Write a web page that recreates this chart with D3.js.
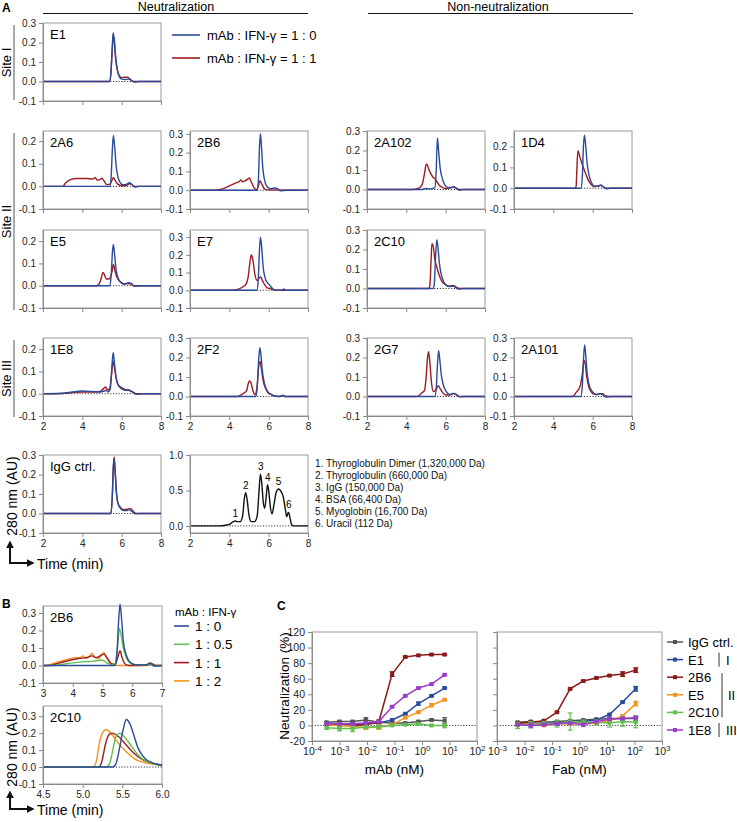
<!DOCTYPE html>
<html>
<head>
<meta charset="utf-8">
<script src="https://cdn.jsdelivr.net/npm/d3@7"></script>
<style>
  body { margin: 0; background: #fff; }
  svg { font-family: "Liberation Sans", Arial, sans-serif; }
</style>
</head>
<body>
<svg id="fig" width="737" height="822"></svg>
<script>
// ---- Panel A chromatograms: [time (min), A280 (AU)] ----
const E1_blue = [[2,0],[5.38,0],[5.45,0.04],[5.52,0.17],[5.57,0.25],[5.63,0.21],[5.7,0.12],[5.78,0.06],[5.88,0.025],[6.0,0.012],[6.15,0.01],[6.35,0.012],[6.5,0.005],[6.65,-0.003],[6.9,0],[8,0]];
const E1_red = [[2,0],[5.38,0],[5.45,0.04],[5.52,0.16],[5.57,0.24],[5.63,0.2],[5.7,0.11],[5.78,0.06],[5.88,0.03],[6.0,0.02],[6.15,0.022],[6.3,0.022],[6.45,0.01],[6.6,0],[8,0]];
const A6_red = [[2,0],[3.0,0],[3.15,0.015],[3.4,0.03],[3.7,0.035],[4.2,0.035],[4.55,0.033],[4.65,0.04],[4.75,0.028],[4.9,0.03],[5.0,0.036],[5.1,0.025],[5.25,0.008],[5.4,0.01],[5.52,0.03],[5.58,0.04],[5.65,0.03],[5.8,0.01],[6.0,0.003],[6.2,0.003],[6.4,0.012],[6.5,0.01],[6.65,0],[8,0]];
const A6_blue = [[2,0],[5.4,0],[5.47,0.05],[5.53,0.17],[5.58,0.225],[5.64,0.18],[5.72,0.09],[5.8,0.045],[5.9,0.02],[6.05,0.008],[6.2,0.008],[6.4,0.016],[6.5,0.01],[6.65,-0.003],[6.9,0],[8,0]];
const B6_red = [[2,0],[3.3,0],[3.6,0.005],[3.9,0.018],[4.2,0.032],[4.4,0.042],[4.5,0.045],[4.58,0.055],[4.68,0.045],[4.8,0.05],[4.95,0.06],[5.02,0.065],[5.1,0.048],[5.25,0.015],[5.38,0.002],[5.47,0.02],[5.56,0.05],[5.64,0.035],[5.75,0.012],[5.9,0.002],[8,0]];
const B6_blue = [[2,0],[5.42,0],[5.48,0.06],[5.53,0.22],[5.58,0.3],[5.63,0.24],[5.7,0.12],[5.8,0.05],[5.92,0.02],[6.1,0.008],[6.3,0.012],[6.45,0.008],[6.6,-0.003],[6.9,0],[8,0]];
const A102_red = [[2,0],[4.3,0],[4.6,0.005],[4.8,0.025],[4.92,0.08],[5.0,0.125],[5.05,0.13],[5.12,0.11],[5.25,0.08],[5.38,0.06],[5.47,0.055],[5.55,0.04],[5.65,0.025],[5.8,0.012],[6.0,0.005],[6.3,0.01],[6.4,0.012],[6.55,0.005],[6.7,0],[8,0]];
const A102_blue = [[2,0],[4.8,0],[5.0,0.005],[5.2,0.003],[5.45,0.01],[5.52,0.1],[5.58,0.265],[5.64,0.2],[5.72,0.11],[5.82,0.06],[5.95,0.025],[6.1,0.01],[6.3,0.01],[6.42,0.014],[6.55,0.006],[6.7,-0.004],[6.9,0],[8,0]];
const D4_red = [[2,0],[5.1,0],[5.16,0.01],[5.2,0.1],[5.25,0.18],[5.32,0.16],[5.45,0.12],[5.6,0.08],[5.75,0.045],[5.9,0.02],[6.1,0.008],[6.3,0.012],[6.42,0.014],[6.55,0.005],[6.7,0],[8,0]];
const D4_blue = [[2,0],[5.4,0],[5.47,0.05],[5.53,0.2],[5.58,0.255],[5.64,0.21],[5.72,0.12],[5.82,0.06],[5.95,0.025],[6.1,0.01],[6.3,0.01],[6.42,0.015],[6.55,0.006],[6.7,-0.003],[6.9,0],[8,0]];
const E5_red = [[2,0],[4.7,0],[4.85,0.008],[4.95,0.03],[5.05,0.06],[5.12,0.05],[5.22,0.03],[5.35,0.03],[5.5,0.06],[5.58,0.095],[5.65,0.07],[5.75,0.04],[5.9,0.02],[6.1,0.008],[6.3,0.01],[6.45,0.008],[6.6,0],[8,0]];
const E5_blue = [[2,0],[5.4,0],[5.47,0.05],[5.53,0.15],[5.58,0.185],[5.64,0.14],[5.72,0.07],[5.82,0.035],[5.95,0.015],[6.15,0.008],[6.35,0.014],[6.5,0.01],[6.65,-0.003],[6.9,0],[8,0]];
const E7_red = [[2,0],[4.2,0],[4.5,0.008],[4.7,0.02],[4.85,0.035],[4.95,0.07],[5.05,0.16],[5.12,0.2],[5.2,0.17],[5.3,0.09],[5.42,0.055],[5.52,0.07],[5.6,0.075],[5.68,0.055],[5.8,0.03],[5.95,0.012],[6.1,0.01],[6.2,0.004],[6.4,0],[8,0]];
const E7_blue = [[2,0],[5.4,0],[5.47,0.06],[5.53,0.22],[5.58,0.3],[5.64,0.25],[5.72,0.13],[5.82,0.07],[5.95,0.04],[6.05,0.03],[6.12,0.02],[6.25,0.005],[6.5,0],[6.7,0.003],[6.78,0.008],[6.85,0],[8,0]];
const C10_red = [[2,0],[5.15,0],[5.2,0.02],[5.26,0.15],[5.3,0.23],[5.36,0.22],[5.45,0.15],[5.55,0.11],[5.7,0.06],[5.85,0.03],[6.0,0.02],[6.15,0.012],[6.3,0.015],[6.42,0.014],[6.55,0.006],[6.7,0],[8,0]];
const C10_blue = [[2,0],[5.35,0],[5.42,0.02],[5.48,0.15],[5.55,0.25],[5.6,0.22],[5.68,0.13],[5.78,0.07],[5.9,0.035],[6.05,0.015],[6.2,0.01],[6.38,0.012],[6.5,0.006],[6.65,-0.003],[6.9,0],[8,0]];
const E8_red = [[2,0],[3.0,0.001],[3.5,0.005],[4.0,0.008],[4.5,0.008],[4.9,0.01],[5.1,0.025],[5.18,0.03],[5.27,0.018],[5.38,0.02],[5.48,0.08],[5.57,0.145],[5.63,0.12],[5.72,0.07],[5.82,0.04],[5.95,0.03],[6.05,0.025],[6.2,0.018],[6.35,0.015],[6.5,0.012],[6.65,0.003],[6.8,0],[8,0]];
const E8_blue = [[2,0],[3.0,0.002],[3.5,0.008],[4.0,0.012],[4.5,0.01],[4.9,0.008],[5.1,0.012],[5.2,0.015],[5.3,0.008],[5.42,0.02],[5.5,0.12],[5.57,0.185],[5.63,0.14],[5.72,0.07],[5.82,0.04],[5.95,0.025],[6.05,0.02],[6.2,0.015],[6.35,0.018],[6.45,0.012],[6.6,0.005],[6.75,-0.003],[7.0,0],[8,0]];
const F2_red = [[2,0],[4.4,0],[4.6,0.008],[4.75,0.018],[4.88,0.03],[4.96,0.065],[5.03,0.08],[5.1,0.07],[5.2,0.03],[5.3,0.01],[5.4,0.04],[5.48,0.14],[5.56,0.18],[5.62,0.15],[5.72,0.08],[5.85,0.04],[6.0,0.015],[6.1,0.012],[6.2,0.005],[6.6,0],[6.7,0.006],[6.8,0],[8,0]];
const F2_blue = [[2,0],[5.35,0],[5.42,0.05],[5.5,0.2],[5.55,0.25],[5.6,0.22],[5.68,0.13],[5.78,0.07],[5.9,0.035],[6.05,0.015],[6.12,0.012],[6.25,0.004],[6.5,0],[6.68,0.004],[6.74,0.007],[6.85,0],[8,0]];
const G7_red = [[2,0],[4.5,0],[4.65,0.005],[4.8,0.02],[4.92,0.03],[5.0,0.09],[5.08,0.2],[5.13,0.23],[5.2,0.17],[5.28,0.07],[5.38,0.025],[5.5,0.035],[5.62,0.055],[5.72,0.04],[5.85,0.02],[6.0,0.008],[6.2,0.008],[6.38,0.016],[6.5,0.012],[6.65,0.002],[6.8,0],[8,0]];
const G7_blue = [[2,0],[5.45,0],[5.52,0.04],[5.58,0.16],[5.64,0.235],[5.7,0.19],[5.78,0.11],[5.88,0.06],[6.0,0.03],[6.15,0.012],[6.3,0.01],[6.42,0.016],[6.55,0.01],[6.7,-0.002],[6.9,0],[8,0]];
const A101_red = [[2,0],[4.95,0],[5.05,0.005],[5.15,0.02],[5.28,0.035],[5.38,0.06],[5.48,0.12],[5.56,0.185],[5.62,0.17],[5.7,0.1],[5.8,0.05],[5.92,0.025],[6.05,0.012],[6.2,0.01],[6.35,0.015],[6.5,0.014],[6.62,0.004],[6.8,0],[8,0]];
const A101_blue = [[2,0],[5.4,0],[5.47,0.05],[5.54,0.2],[5.59,0.265],[5.64,0.22],[5.72,0.12],[5.82,0.06],[5.95,0.03],[6.1,0.013],[6.25,0.01],[6.4,0.014],[6.52,0.008],[6.68,-0.003],[6.9,0],[8,0]];
const IgG_red = [[2,0],[5.45,0],[5.52,0.08],[5.58,0.25],[5.62,0.29],[5.67,0.22],[5.74,0.1],[5.82,0.05],[5.95,0.03],[6.1,0.02],[6.3,0.022],[6.45,0.025],[6.55,0.015],[6.7,0.002],[6.9,0],[8,0]];
const IgG_blue = [[2,0],[5.45,0],[5.52,0.08],[5.58,0.24],[5.62,0.28],[5.67,0.21],[5.74,0.1],[5.82,0.05],[5.95,0.025],[6.1,0.015],[6.25,0.015],[6.35,0.02],[6.45,0.016],[6.55,0.008],[6.7,-0.002],[6.9,0],[8,0]];
const standards = [[2,0],[3.5,0],[3.8,0.01],[4.05,0.03],[4.2,0.06],[4.3,0.07],[4.42,0.06],[4.55,0.06],[4.68,0.15],[4.76,0.38],[4.83,0.47],[4.9,0.38],[5.0,0.15],[5.12,0.06],[5.28,0.06],[5.42,0.15],[5.5,0.45],[5.58,0.73],[5.65,0.6],[5.72,0.35],[5.8,0.25],[5.87,0.4],[5.94,0.58],[6.0,0.5],[6.08,0.28],[6.17,0.17],[6.27,0.3],[6.38,0.47],[6.5,0.52],[6.62,0.49],[6.75,0.4],[6.85,0.23],[6.92,0.13],[6.98,0.18],[7.02,0.19],[7.08,0.12],[7.15,0.03],[7.25,0],[8,0]];
const stdPeaks = [[4.3,0.07,"1"],[4.83,0.47,"2"],[5.6,0.73,"3"],[5.95,0.58,"4"],[6.5,0.52,"5"],[7.02,0.19,"6"]];
const stdNames = ["1. Thyroglobulin Dimer (1,320,000 Da)","2. Thyroglobulin (660,000 Da)","3. IgG (150,000 Da)","4. BSA (66,400 Da)","5. Myoglobin (16,700 Da)","6. Uracil (112 Da)"];

// ---- Panel B: titration of IFN-γ ----
const ratioLabels = ["1 : 0","1 : 0.5","1 : 1","1 : 2"];
const B6_r0 = [[3,0],[5.42,0],[5.48,0.05],[5.54,0.25],[5.59,0.35],[5.64,0.27],[5.7,0.14],[5.8,0.06],[5.92,0.02],[6.1,0.005],[6.45,0.003],[6.55,0.01],[6.62,0.012],[6.7,0],[6.8,-0.003],[7,0]];
const B6_r05 = [[3,0],[3.3,0],[3.6,0.006],[4.0,0.015],[4.4,0.022],[4.7,0.025],[4.9,0.03],[5.0,0.03],[5.15,0.015],[5.3,0.005],[5.42,0.01],[5.5,0.1],[5.57,0.21],[5.63,0.17],[5.7,0.1],[5.8,0.045],[5.92,0.015],[6.1,0.004],[6.5,0.005],[6.6,0.01],[6.7,0],[7,0]];
const B6_r1 = [[3,0],[3.2,0],[3.5,0.012],[3.9,0.03],[4.2,0.04],[4.45,0.045],[4.65,0.055],[4.78,0.045],[4.92,0.055],[5.05,0.065],[5.15,0.045],[5.3,0.01],[5.42,0.005],[5.52,0.05],[5.59,0.085],[5.65,0.05],[5.75,0.01],[5.9,0],[6.5,0.003],[6.6,0.015],[6.7,0.005],[6.8,0],[7,0]];
const B6_r2 = [[3,0],[3.1,0],[3.4,0.015],[3.8,0.035],[4.1,0.045],[4.25,0.045],[4.35,0.055],[4.45,0.04],[4.55,0.05],[4.65,0.07],[4.75,0.045],[4.88,0.04],[4.98,0.065],[5.05,0.075],[5.12,0.05],[5.25,0.015],[5.4,0.003],[5.55,0],[6.5,0],[6.6,0.008],[6.7,0.01],[6.78,0],[7,0]];
const C10_r0 = [[4.5,0],[5.38,0],[5.42,0.02],[5.46,0.1],[5.51,0.22],[5.55,0.28],[5.6,0.25],[5.65,0.18],[5.7,0.11],[5.75,0.07],[5.8,0.045],[5.88,0.025],[5.95,0.015],[6,0.01]];
const C10_r05 = [[4.5,0],[5.3,0],[5.34,0.02],[5.38,0.1],[5.42,0.18],[5.47,0.2],[5.54,0.17],[5.62,0.12],[5.7,0.07],[5.8,0.035],[5.9,0.018],[6,0.01]];
const C10_r1 = [[4.5,0],[5.2,0],[5.24,0.03],[5.29,0.14],[5.33,0.19],[5.37,0.2],[5.45,0.18],[5.55,0.13],[5.65,0.08],[5.75,0.045],[5.85,0.025],[5.95,0.015],[6,0.012]];
const C10_r2 = [[4.5,0],[5.13,0],[5.17,0.03],[5.21,0.14],[5.26,0.21],[5.3,0.22],[5.37,0.19],[5.45,0.14],[5.55,0.09],[5.65,0.05],[5.75,0.03],[5.85,0.02],[6,0.01]];

// ---- Panel C: neutralization (%) ----
const seriesC = ["IgG ctrl.","E1","2B6","E5","2C10","1E8"];
const mAbConc = [0.00034,0.001,0.003,0.0091,0.027,0.082,0.247,0.74,2.22,6.67];
const mAb_IgG = [4,5,5,7,4,3,3,5,7,6];
const mAb_E1 = [1,1,1,2,3,7,15,28,38,48];
const mAb_2B6 = [1,0,0,1,5,66,88,90,91,91];
const mAb_E5 = [1,0,-1,-3,-2,1,10,17,26,33];
const mAb_2C10 = [-3,-4,-4,-2,-2,0,1,2,0,0];
const mAb_1E8 = [2,2,2,3,5,24,38,48,53,65];
const mAbErr_IgG = [1,1,1,3,1,1,1,1,1,4];
const mAbErr_E1 = [1,1,1,1,1,1,1,2,1,1];
const mAbErr_2B6 = [1,1,1,1,2,3,1,1,1,1];
const mAbErr_E5 = [1,1,2,2,3,1,1,1,2,1];
const mAbErr_2C10 = [2,3,4,2,2,1,1,1,1,3];
const mAbErr_1E8 = [1,1,1,1,1,1,1,1,1,1];
const fabConc = [0.00565,0.0169,0.0508,0.152,0.457,1.37,4.1,12.3,37,111];
const fab_IgG = [4,5,4,5,6,7,8,9,9,9];
const fab_E1 = [3,2,2,3,4,5,7,14,30,47];
const fab_2B6 = [3,4,6,17,47,57,61,64,66,71];
const fab_E5 = [1,2,0,2,2,2,3,6,12,28];
const fab_2C10 = [0,2,2,2,5,4,4,3,5,4];
const fab_1E8 = [1,0,1,2,3,1,5,8,9,10];
const fabErr_IgG = [1,1,1,1,1,1,1,1,2,3];
const fabErr_E1 = [1,1,1,1,1,1,1,1,1,3];
const fabErr_2B6 = [1,1,1,1,1,1,1,1,3,3];
const fabErr_E5 = [1,1,1,1,1,1,1,1,2,3];
const fabErr_2C10 = [4,3,3,4,11,3,3,5,6,7];
const fabErr_1E8 = [1,3,1,1,1,2,1,1,1,1];

const BLUE = "#2A4B9B", RED = "#9E1B20", GREEN = "#62BD4F", ORANGE = "#F7931E", PURPLE = "#9B3CCB", GRAY = "#555555";
const colorsC = [GRAY, BLUE, "#8B1A1A", ORANGE, GREEN, PURPLE];

const svg = d3.select("#fig");

function styleAxis(g, fs) {
  g.selectAll("path, line").attr("stroke", "#8a8a8a");
  g.selectAll("text").attr("fill", "#222").style("font-size", fs + "px");
}

// generic chromatogram panel
function chrom(o) {
  const x = d3.scaleLinear().domain(o.xd).range([o.x0, o.x0 + o.w]);
  const y = d3.scaleLinear().domain(o.yd).range([o.y0 + o.h, o.y0]);
  svg.append("rect").attr("x", o.x0).attr("y", o.y0).attr("width", o.w).attr("height", o.h)
    .attr("fill", "none").attr("stroke", "#9a9a9a");
  svg.append("line").attr("x1", x(o.xd[0])).attr("x2", x(o.xd[1])).attr("y1", y(0)).attr("y2", y(0))
    .attr("stroke", "#222").attr("stroke-width", 0.9).attr("stroke-dasharray", "1.2,1.6");
  const line = d3.line().x(d => x(d[0])).y(d => y(d[1])).curve(d3.curveMonotoneX);
  o.traces.forEach(t => {
    svg.append("path").attr("d", line(t.data)).attr("fill", "none")
      .attr("stroke", t.color).attr("stroke-width", 1.4);
  });
  const ya = svg.append("g").attr("transform", `translate(${o.x0},0)`)
    .call(d3.axisLeft(y).tickValues(o.yt).tickSize(4).tickSizeOuter(0).tickFormat(d => d.toFixed(1)));
  styleAxis(ya, 10);
  const xa = svg.append("g").attr("transform", `translate(0,${o.y0 + o.h})`)
    .call(d3.axisBottom(x).tickValues(o.xt).tickSize(4).tickSizeOuter(0)
      .tickFormat(o.xlab ? o.xf : () => ""));
  styleAxis(xa, 10);
  if (o.title) {
    svg.append("text").attr("x", o.x0 + 7).attr("y", o.y0 + 16).attr("font-size", 13).text(o.title);
  }
  return {x, y};
}

// ---- panel A layout ----
const colX = [43, 190, 367, 514], rowY = [23, 131, 230, 338, 455];
const pw = 118, ph = 78;
const t2 = [2, 4, 6, 8];
const yt3 = [-0.1, 0, 0.1, 0.2, 0.3], yt2 = [-0.1, 0, 0.1, 0.2];
const aPanels = [
  {c: 0, r: 0, title: "E1", red: E1_red, blue: E1_blue, yd: [-0.1, 0.3], yt: yt3},
  {c: 0, r: 1, title: "2A6", red: A6_red, blue: A6_blue, yd: [-0.1, 0.245], yt: yt2},
  {c: 1, r: 1, title: "2B6", red: B6_red, blue: B6_blue, yd: [-0.1, 0.315], yt: yt3},
  {c: 2, r: 1, title: "2A102", red: A102_red, blue: A102_blue, yd: [-0.1, 0.3], yt: yt3},
  {c: 3, r: 1, title: "1D4", red: D4_red, blue: D4_blue, yd: [-0.1, 0.275], yt: yt2},
  {c: 0, r: 2, title: "E5", red: E5_red, blue: E5_blue, yd: [-0.1, 0.25], yt: yt2},
  {c: 1, r: 2, title: "E7", red: E7_red, blue: E7_blue, yd: [-0.1, 0.34], yt: yt3},
  {c: 2, r: 2, title: "2C10", red: C10_red, blue: C10_blue, yd: [-0.1, 0.3], yt: yt3},
  {c: 0, r: 3, title: "1E8", red: E8_red, blue: E8_blue, yd: [-0.1, 0.25], yt: yt2, xlab: true},
  {c: 1, r: 3, title: "2F2", red: F2_red, blue: F2_blue, yd: [-0.1, 0.3], yt: yt3, xlab: true},
  {c: 2, r: 3, title: "2G7", red: G7_red, blue: G7_blue, yd: [-0.1, 0.3], yt: yt3, xlab: true},
  {c: 3, r: 3, title: "2A101", red: A101_red, blue: A101_blue, yd: [-0.1, 0.3], yt: yt3, xlab: true},
  {c: 0, r: 4, title: "IgG ctrl.", red: IgG_red, blue: IgG_blue, yd: [-0.1, 0.3], yt: yt3, xlab: true}
];
aPanels.forEach(p => {
  chrom({x0: colX[p.c], y0: rowY[p.r], w: pw, h: ph, xd: [2, 8], yd: p.yd, xt: t2, yt: p.yt,
    xlab: !!p.xlab, xf: d => d, title: p.title,
    traces: [{data: p.red, color: RED}, {data: p.blue, color: BLUE}]});
});

// standards
const std = chrom({x0: colX[1], y0: rowY[4], w: pw, h: ph, xd: [2, 8], yd: [-0.1, 1.0], xt: t2, yt: [0, 0.5, 1.0],
  xlab: true, xf: d => d, traces: [{data: standards, color: "#111"}]});
stdPeaks.forEach(p => {
  svg.append("text").attr("x", std.x(p[0])).attr("y", std.y(p[1]) - 4).attr("text-anchor", "middle")
    .attr("font-size", 10).text(p[2]);
});
stdNames.forEach((s, i) => {
  svg.append("text").attr("x", 315).attr("y", 467 + i * 12).attr("font-size", 10).attr("fill", "#111").text(s);
});

// headers
svg.append("text").attr("x", 2).attr("y", 12).attr("font-size", 12).attr("font-weight", "bold").text("A");
svg.append("text").attr("x", 176).attr("y", 11).attr("text-anchor", "middle").attr("font-size", 12.5).text("Neutralization");
svg.append("line").attr("x1", 43).attr("x2", 308).attr("y1", 13.5).attr("y2", 13.5).attr("stroke", "#111");
svg.append("text").attr("x", 498).attr("y", 11).attr("text-anchor", "middle").attr("font-size", 12.5).text("Non-neutralization");
svg.append("line").attr("x1", 368).attr("x2", 633).attr("y1", 13.5).attr("y2", 13.5).attr("stroke", "#111");

// legend A
[["mAb : IFN-γ = 1 : 0", BLUE, 35], ["mAb : IFN-γ = 1 : 1", RED, 58]].forEach(l => {
  svg.append("line").attr("x1", 172).attr("x2", 200).attr("y1", l[2]).attr("y2", l[2]).attr("stroke", l[1]).attr("stroke-width", 1.6);
  svg.append("text").attr("x", 207).attr("y", l[2] + 4.5).attr("font-size", 13).text(l[0]);
});

// site brackets
[["Site I", 25, 100], ["Site II", 133, 310], ["Site III", 340, 417]].forEach(s => {
  svg.append("line").attr("x1", 14).attr("x2", 14).attr("y1", s[1]).attr("y2", s[2]).attr("stroke", "#555");
  svg.append("text").attr("transform", `translate(11,${(s[1] + s[2]) / 2}) rotate(-90)`)
    .attr("text-anchor", "middle").attr("font-size", 13).text(s[0]);
});

// axis-hint arrows
svg.append("defs").append("marker").attr("id", "ah").attr("viewBox", "0 0 10 10").attr("refX", 8).attr("refY", 5)
  .attr("markerWidth", 4).attr("markerHeight", 4).attr("orient", "auto")
  .append("path").attr("d", "M0,0L10,5L0,10z").attr("fill", "#111");
function hint(cy, len, tyMid) {
  svg.append("path").attr("d", `M10,${cy - 1}V${cy - len}`).attr("stroke", "#111").attr("stroke-width", 2).attr("fill", "none").attr("marker-end", "url(#ah)");
  svg.append("path").attr("d", `M9,${cy}H33`).attr("stroke", "#111").attr("stroke-width", 2).attr("fill", "none").attr("marker-end", "url(#ah)");
  svg.append("text").attr("x", 37).attr("y", cy + 6).attr("font-size", 14).text("Time (min)");
  svg.append("text").attr("transform", `translate(17,${tyMid}) rotate(-90)`).attr("text-anchor", "middle")
    .attr("font-size", 14).text("280 nm (AU)");
}
hint(563, 21, 496);

// ---- panel B ----
svg.append("text").attr("x", 2).attr("y", 608).attr("font-size", 12).attr("font-weight", "bold").text("B");
chrom({x0: 43, y0: 606, w: 119, h: 77, xd: [3, 7], yd: [-0.1, 0.34], xt: [3, 4, 5, 6, 7], yt: yt3,
  xlab: true, xf: d => d, title: "2B6",
  traces: [{data: B6_r2, color: ORANGE}, {data: B6_r1, color: RED}, {data: B6_r05, color: GREEN}, {data: B6_r0, color: BLUE}]});
chrom({x0: 43, y0: 706, w: 119, h: 78, xd: [4.5, 6], yd: [-0.1, 0.36], xt: [4.5, 5, 5.5, 6], yt: yt3,
  xlab: true, xf: d => d.toFixed(1), title: "2C10",
  traces: [{data: C10_r2, color: ORANGE}, {data: C10_r1, color: RED}, {data: C10_r05, color: GREEN}, {data: C10_r0, color: BLUE}]});
hint(809, 17, 747);
svg.append("text").attr("x", 175).attr("y", 616).attr("font-size", 11.5).text("mAb : IFN-γ");
[BLUE, GREEN, RED, ORANGE].forEach((c, i) => {
  const yy = 626 + i * 18.3;
  svg.append("line").attr("x1", 174).attr("x2", 189).attr("y1", yy).attr("y2", yy).attr("stroke", c).attr("stroke-width", 1.6);
  svg.append("text").attr("x", 195).attr("y", yy + 5).attr("font-size", 13.5).text(ratioLabels[i]);
});

// ---- panel C ----
svg.append("text").attr("x", 277).attr("y", 610).attr("font-size", 12).attr("font-weight", "bold").text("C");
function supTick(g, fs) {
  g.selectAll(".tick text").each(function(d) {
    const e = Math.round(Math.log10(d));
    const t = d3.select(this).text("");
    t.append("tspan").text("10");
    t.append("tspan").attr("dy", -4).style("font-size", (fs - 2.5) + "px").text(e);
  });
}
function doseCurve(o) {
  const x = d3.scaleLog().domain(o.xd).range([o.x0, o.x0 + o.w]);
  const y = d3.scaleLinear().domain([-20, 120]).range([o.y0 + o.h, o.y0]);
  svg.append("rect").attr("x", o.x0).attr("y", o.y0).attr("width", o.w).attr("height", o.h)
    .attr("fill", "none").attr("stroke", "#9a9a9a");
  svg.append("line").attr("x1", o.x0).attr("x2", o.x0 + o.w).attr("y1", y(0)).attr("y2", y(0))
    .attr("stroke", "#222").attr("stroke-width", 0.9).attr("stroke-dasharray", "1.2,1.6");
  const line = d3.line().x(d => x(d[0])).y(d => y(d[1]));
  o.series.forEach((s, k) => {
    const pts = o.conc.map((c, i) => [c, s.v[i], s.e[i]]);
    const g = svg.append("g").attr("stroke", colorsC[k]).attr("fill", colorsC[k]);
    pts.forEach(p => {
      g.append("line").attr("x1", x(p[0])).attr("x2", x(p[0])).attr("y1", y(p[1] - p[2])).attr("y2", y(p[1] + p[2])).attr("stroke-width", 1.2);
      [p[1] - p[2], p[1] + p[2]].forEach(v => g.append("line").attr("x1", x(p[0]) - 2.5).attr("x2", x(p[0]) + 2.5).attr("y1", y(v)).attr("y2", y(v)).attr("stroke-width", 1.2));
    });
    g.append("path").attr("d", line(pts)).attr("fill", "none").attr("stroke-width", 1.5);
    g.selectAll("rect.m").data(pts).enter().append("rect")
      .attr("x", p => x(p[0]) - 2).attr("y", p => y(p[1]) - 2).attr("width", 4).attr("height", 4).attr("stroke", "none");
  });
  const ya = svg.append("g").attr("transform", `translate(${o.x0},0)`)
    .call(d3.axisLeft(y).tickValues(d3.range(-20, 121, 20)).tickSize(4).tickSizeOuter(0)
      .tickFormat(o.ylab ? d => d : () => ""));
  styleAxis(ya, 10.5);
  const ticks = d3.range(Math.log10(o.xd[0]), Math.log10(o.xd[1]) + 0.5).map(e => Math.pow(10, e));
  const xa = svg.append("g").attr("transform", `translate(0,${o.y0 + o.h})`)
    .call(d3.axisBottom(x).tickValues(ticks).tickSize(4).tickSizeOuter(0));
  styleAxis(xa, 10.5);
  supTick(xa, 10.5);
  svg.append("text").attr("x", o.x0 + o.w / 2).attr("y", 774).attr("text-anchor", "middle").attr("font-size", 13.5).text(o.xtitle);
}
doseCurve({x0: 312, y0: 632, w: 165, h: 109, xd: [1e-4, 1e2], conc: mAbConc, ylab: true, xtitle: "mAb (nM)",
  series: [{v: mAb_IgG, e: mAbErr_IgG}, {v: mAb_E1, e: mAbErr_E1}, {v: mAb_2B6, e: mAbErr_2B6},
           {v: mAb_E5, e: mAbErr_E5}, {v: mAb_2C10, e: mAbErr_2C10}, {v: mAb_1E8, e: mAbErr_1E8}]});
doseCurve({x0: 497, y0: 632, w: 165, h: 109, xd: [1e-3, 1e3], conc: fabConc, ylab: false, xtitle: "Fab (nM)",
  series: [{v: fab_IgG, e: fabErr_IgG}, {v: fab_E1, e: fabErr_E1}, {v: fab_2B6, e: fabErr_2B6},
           {v: fab_E5, e: fabErr_E5}, {v: fab_2C10, e: fabErr_2C10}, {v: fab_1E8, e: fabErr_1E8}]});
svg.append("text").attr("transform", "translate(289,686) rotate(-90)").attr("text-anchor", "middle")
  .attr("font-size", 13.5).text("Neutralization (%)");

// legend C
seriesC.forEach((s, i) => {
  const yy = 642 + i * 17.6;
  svg.append("line").attr("x1", 667).attr("x2", 683).attr("y1", yy).attr("y2", yy).attr("stroke", colorsC[i]).attr("stroke-width", 1.5);
  svg.append("rect").attr("x", 673).attr("y", yy - 2).attr("width", 4).attr("height", 4).attr("fill", colorsC[i]);
  svg.append("text").attr("x", 688).attr("y", yy + 5).attr("font-size", 13).text(s);
});
const ly = i => 642 + i * 17.6;
[[1, "I"], [5, "III"]].forEach(s => {
  svg.append("line").attr("x1", 719).attr("x2", 719).attr("y1", ly(s[0]) - 7).attr("y2", ly(s[0]) + 7).attr("stroke", "#333");
  svg.append("text").attr("x", 726).attr("y", ly(s[0]) + 5).attr("font-size", 13).text(s[1]);
});
svg.append("line").attr("x1", 722).attr("x2", 722).attr("y1", ly(2) - 4).attr("y2", ly(4) + 5).attr("stroke", "#333");
svg.append("text").attr("x", 728).attr("y", ly(3) + 5).attr("font-size", 13).text("II");
</script>
</body>
</html>
